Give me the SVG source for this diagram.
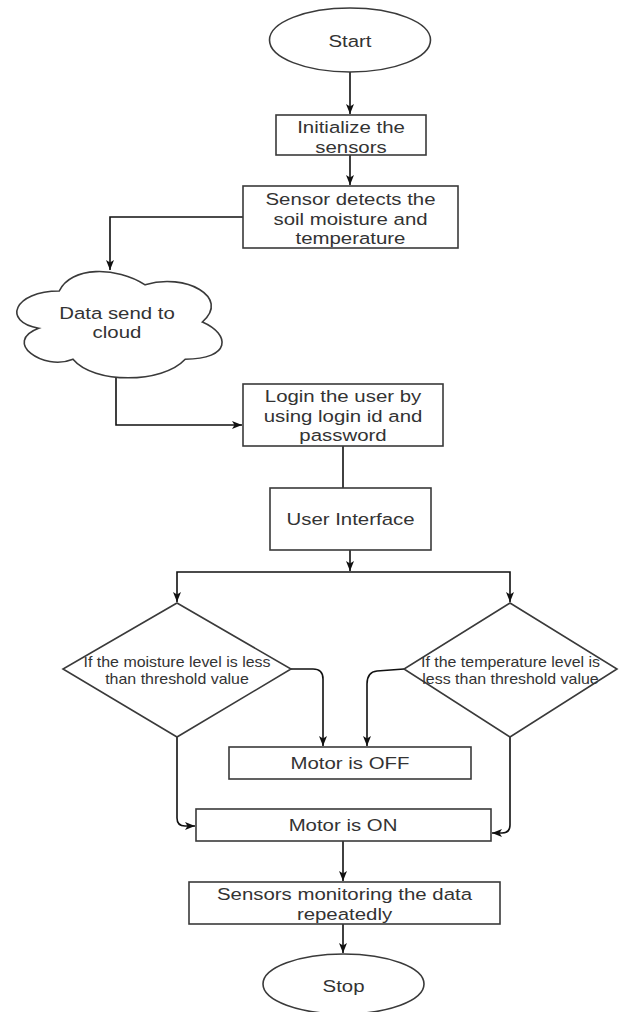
<svg xmlns="http://www.w3.org/2000/svg" width="621" height="1012" viewBox="0 0 621 1012">
<style>
.shape{fill:#fff;stroke:#3a3a3a;stroke-width:1.6}
.edge{fill:none;stroke:#111;stroke-width:1.6}
.t{font-family:"Liberation Sans",Arial,sans-serif;font-size:17px;fill:#333;text-anchor:middle}
.s{font-family:"Liberation Sans",Arial,sans-serif;font-size:14px;fill:#333;text-anchor:middle}
</style>
<defs>
<marker id="arr" markerUnits="userSpaceOnUse" markerWidth="12" markerHeight="10" refX="11" refY="5" orient="auto">
<path d="M1,1 L11,5 L1,9 L3.5,5 Z" fill="#111"/>
</marker>
</defs>
<rect width="621" height="1012" fill="#fff"/>
<g id="connectors">
<path class="edge" d="M350,72 V114" marker-end="url(#arr)"/>
<path class="edge" d="M350,155 V185" marker-end="url(#arr)"/>
<path class="edge" d="M243,217 H110 V270" marker-end="url(#arr)"/>
<path class="edge" d="M116,378 V425 H242" marker-end="url(#arr)"/>
<path class="edge" d="M343,446 V488"/>
<path class="edge" d="M350,550 V571" marker-end="url(#arr)"/>
<path class="edge" d="M350,572 H177 V602" marker-end="url(#arr)"/>
<path class="edge" d="M350,572 H510 V602" marker-end="url(#arr)"/>
<path class="edge" d="M291,669 H313 Q323,669 323,679 V746" marker-end="url(#arr)"/>
<path class="edge" d="M404,669 L377,671 Q367,672 367,684 V746" marker-end="url(#arr)"/>
<path class="edge" d="M177,737 V818 Q177,826 185,826 H195" marker-end="url(#arr)"/>
<path class="edge" d="M510,737 V825 Q510,833 502,833 H492" marker-end="url(#arr)"/>
<path class="edge" d="M343,841 V881" marker-end="url(#arr)"/>
<path class="edge" d="M343,924 V953" marker-end="url(#arr)"/>
</g>
<g id="start">
<ellipse class="shape" cx="350" cy="40" rx="80.5" ry="32"/>
<text class="t" transform="translate(350,47) scale(1.2,1)">Start</text>
</g>
<g id="init">
<rect class="shape" x="276" y="115" width="150" height="40"/>
<text class="t" transform="translate(351,133) scale(1.2,1)">Initialize the</text>
<text class="t" transform="translate(351,152.5) scale(1.2,1)">sensors</text>
</g>
<g id="detect">
<rect class="shape" x="243" y="186" width="215" height="62"/>
<text class="t" transform="translate(350.5,205) scale(1.2,1)">Sensor detects the</text>
<text class="t" transform="translate(350.5,224.5) scale(1.2,1)">soil moisture and</text>
<text class="t" transform="translate(350.5,244) scale(1.2,1)">temperature</text>
</g>
<g id="cloud">
<path class="shape" d="M59.25,291 C13.45,291 2,322 38.64,328.2 C2,341.84 43.22,371.6 72.99,359.2 C93.6,384 162.3,384 185.2,359.2 C231,359.2 231,334.4 202.375,322 C231,297.2 185.2,272.4 145.125,284.8 C116.5,266.2 70.7,266.2 59.25,291 Z"/>
<text class="t" transform="translate(117,318.5) scale(1.2,1)">Data send to</text>
<text class="t" transform="translate(117,338) scale(1.2,1)">cloud</text>
</g>
<g id="login">
<rect class="shape" x="243" y="384" width="200" height="62"/>
<text class="t" transform="translate(343,402) scale(1.2,1)">Login the user by</text>
<text class="t" transform="translate(343,421.5) scale(1.2,1)">using login id and</text>
<text class="t" transform="translate(343,441) scale(1.2,1)">password</text>
</g>
<g id="ui">
<rect class="shape" x="270" y="488" width="161" height="62"/>
<text class="t" transform="translate(350.5,525) scale(1.2,1)">User Interface</text>
</g>
<g id="moisture">
<polygon class="shape" points="177,603 291,669 177,737 63,669"/>
<text class="s" transform="translate(177,667) scale(1.14,1)">If the moisture level is less</text>
<text class="s" transform="translate(177,683.5) scale(1.14,1)">than threshold value</text>
</g>
<g id="temperature">
<polygon class="shape" points="510,603 617,669 510,737 404,669"/>
<text class="s" transform="translate(510.5,667) scale(1.14,1)">If the temperature level is</text>
<text class="s" transform="translate(510.5,683.5) scale(1.14,1)">less than threshold value</text>
</g>
<g id="motoroff">
<rect class="shape" x="229" y="747" width="242" height="32"/>
<text class="t" transform="translate(350,769) scale(1.2,1)">Motor is OFF</text>
</g>
<g id="motoron">
<rect class="shape" x="196" y="809" width="295" height="32"/>
<text class="t" transform="translate(343,831) scale(1.2,1)">Motor is ON</text>
</g>
<g id="monitor">
<rect class="shape" x="189" y="882" width="311" height="42"/>
<text class="t" transform="translate(344.5,900) scale(1.2,1)">Sensors monitoring the data</text>
<text class="t" transform="translate(344.5,919.5) scale(1.2,1)">repeatedly</text>
</g>
<g id="stop">
<ellipse class="shape" cx="343.5" cy="984" rx="80.5" ry="30"/>
<text class="t" transform="translate(343.5,992) scale(1.2,1)">Stop</text>
</g>
</svg>
